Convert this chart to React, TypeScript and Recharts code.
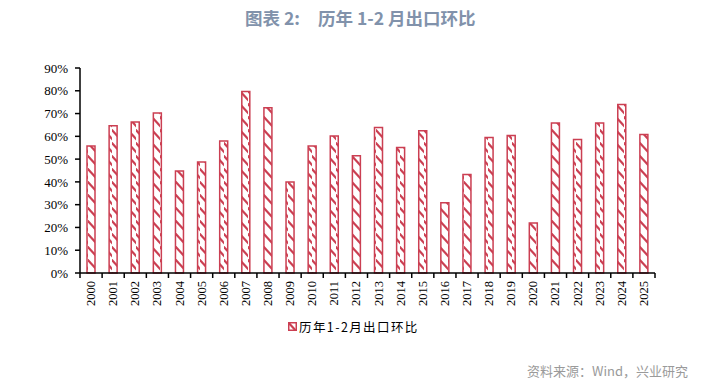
import React from "react";
import { BarChart, Bar, XAxis, YAxis } from "recharts";

const years = [
  "2000", "2001", "2002", "2003", "2004", "2005", "2006", "2007", "2008", "2009",
  "2010", "2011", "2012", "2013", "2014", "2015", "2016", "2017", "2018", "2019",
  "2020", "2021", "2022", "2023", "2024", "2025",
];
const ratios = [
  55.8, 64.6, 66.3, 70.2, 44.8, 48.7, 58.0, 79.7, 72.5, 39.9,
  55.8, 60.2, 51.5, 63.9, 55.1, 62.4, 30.8, 43.2, 59.5, 60.4,
  22.0, 65.9, 58.6, 65.9, 74.0, 60.8,
];
const yTicks = [0, 10, 20, 30, 40, 50, 60, 70, 80, 90];
const seriesName = "历年1-2月出口环比";
const titleLabel = "图表 2:";
const titleText = "历年 1-2 月出口环比";
const sourceText = "资料来源：Wind，兴业研究";

const data = years.map((y, i) => ({ year: y, value: ratios[i] }));

const RED = "#CB3F52";
const W = 714;
const H = 387;
const MARGIN = { top: 68, right: 59, bottom: 74, left: 0 };
const Y_WIDTH = 80;
const X_HEIGHT = 40;
const plotWidth = W - MARGIN.left - MARGIN.right - Y_WIDTH;
const band = plotWidth / years.length;
const AXIS_Y = H - MARGIN.bottom - X_HEIGHT;

const XTick = (props: any) => {
  const { x, payload, index } = props;
  const axisY = AXIS_Y;
  const left = x - band / 2;
  const right = x + band / 2;
  return (
    <g>
      <line x1={left} y1={axisY} x2={left} y2={axisY + 5} stroke="#000" strokeWidth={1.5} />
      {index === years.length - 1 && (
        <line x1={right} y1={axisY} x2={right} y2={axisY + 5} stroke="#000" strokeWidth={1.5} />
      )}
      <text
        x={x}
        y={axisY + 8}
        transform={`rotate(-90, ${x}, ${axisY + 8})`}
        textAnchor="end"
        dominantBaseline="central"
        fontFamily="'Liberation Serif', serif"
        fontSize={12.5}
        fill="#000"
      >
        {payload.value}
      </text>
    </g>
  );
};

export default function App() {
  return (
    <div
      style={{
        position: "absolute",
        left: 0,
        top: 0,
        width: W,
        height: H,
        background: "#fff",
        overflow: "hidden",
      }}
    >
      <svg width={0} height={0} style={{ position: "absolute" }}>
        <defs>
          <pattern id="stripes" patternUnits="userSpaceOnUse" width={8} height={13}>
            <rect x={0} y={0} width={8} height={13} fill="#fff" />
            <path d="M-1,-1 L9,10" stroke={RED} strokeWidth={2.2} />
            <path d="M-1,12 L9,23" stroke={RED} strokeWidth={2.2} />
            <path d="M-1,-14 L9,-3" stroke={RED} strokeWidth={2.2} />
          </pattern>
        </defs>
      </svg>
      <div
        style={{
          position: "absolute",
          left: 245,
          top: 6,
          fontFamily: "'Noto Sans CJK SC', sans-serif",
          fontWeight: 700,
          fontSize: 17.5,
          lineHeight: "24px",
          color: "#8192AB",
          whiteSpace: "pre",
        }}
      >
        {titleLabel}
      </div>
      <div
        style={{
          position: "absolute",
          left: 318,
          top: 6,
          fontFamily: "'Noto Sans CJK SC', sans-serif",
          fontWeight: 700,
          fontSize: 17.5,
          lineHeight: "24px",
          color: "#8192AB",
          whiteSpace: "pre",
        }}
      >
        {titleText}
      </div>
      <BarChart width={W} height={H} data={data} margin={MARGIN}>
        <XAxis
          dataKey="year"
          height={X_HEIGHT}
          axisLine={{ stroke: "#000", strokeWidth: 1.5 }}
          tickLine={false}
          tick={<XTick />}
          interval={0}
          tickMargin={0}
          tickSize={0}
        />
        <YAxis
          width={Y_WIDTH}
          domain={[0, 90]}
          ticks={yTicks}
          interval={0}
          axisLine={{ stroke: "#000", strokeWidth: 1.5 }}
          tickLine={{ stroke: "#000", strokeWidth: 1.5 }}
          tickSize={5}
          tickMargin={7}
          tickFormatter={(v: number) => `${v}%`}
          tick={{ fontFamily: "'Liberation Serif', serif", fontSize: 13, fill: "#000" }}
        />
        <Bar
          dataKey="value"
          name={seriesName}
          barSize={8}
          fill="url(#stripes)"
          stroke={RED}
          strokeWidth={1.5}
          isAnimationActive={false}
        />
      </BarChart>
      <div
        style={{
          position: "absolute",
          left: 288,
          top: 317,
          display: "flex",
          alignItems: "center",
          whiteSpace: "pre",
        }}
      >
        <svg width={9} height={9} style={{ marginRight: 2 }}>
          <rect x={0.75} y={0.75} width={7.5} height={7.5} fill="url(#stripes)" stroke={RED} strokeWidth={1.5} />
        </svg>
        <span
          style={{
            fontFamily: "'Noto Sans CJK SC', sans-serif",
            fontSize: 12.5,
            letterSpacing: 1.4,
            color: "#000",
          }}
        >
          {seriesName}
        </span>
      </div>
      <div
        style={{
          position: "absolute",
          right: 26,
          top: 361,
          fontFamily: "'Noto Sans CJK SC', sans-serif",
          fontSize: 13,
          color: "#9A9A9A",
          whiteSpace: "pre",
        }}
      >
        {sourceText}
      </div>
    </div>
  );
}
